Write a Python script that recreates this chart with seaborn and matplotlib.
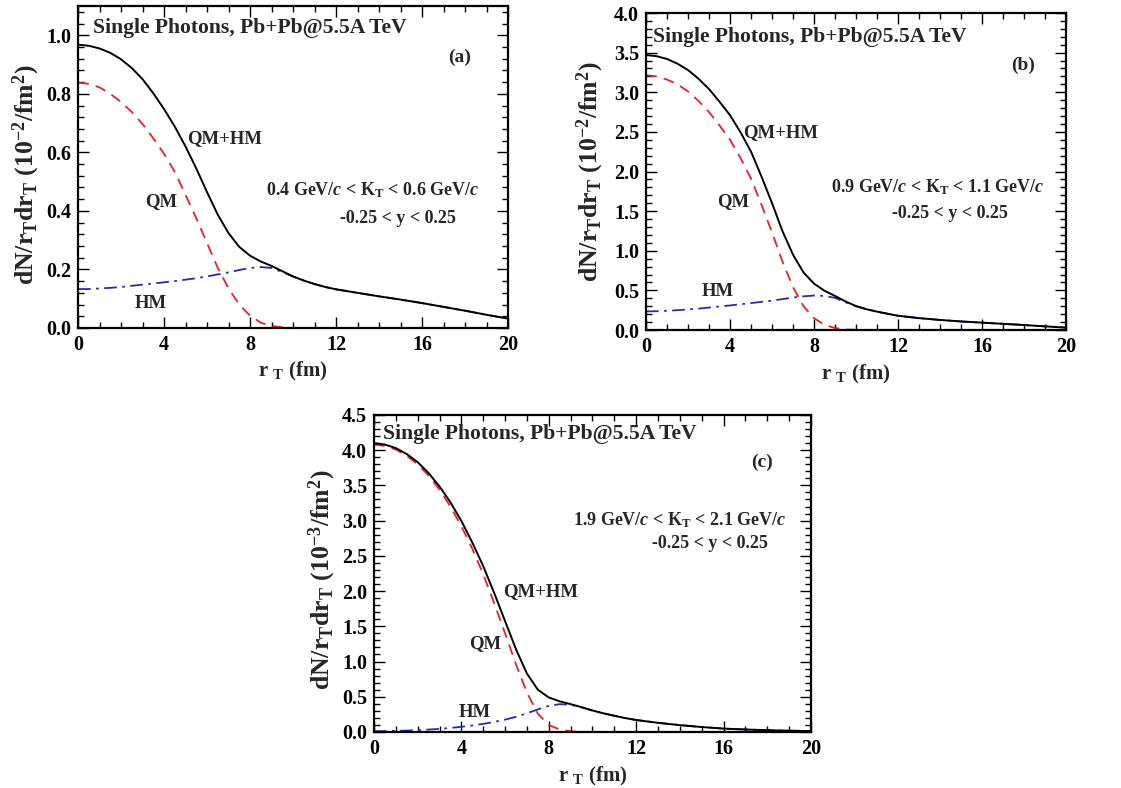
import numpy as np
import pandas as pd
import seaborn as sns
import matplotlib
matplotlib.use("Agg")
import matplotlib.pyplot as plt
from matplotlib.ticker import MultipleLocator, FormatStrFormatter

# transverse radius grid (fm)
r_T = [0, 0.5, 1, 1.5, 2, 2.5, 3, 3.5, 4, 4.5, 5, 5.5, 6, 6.5, 7, 7.5, 8, 8.5,
       9, 9.5, 10, 10.5, 11, 11.5, 12, 13, 14, 15, 16, 17, 18, 19, 20]

# (a) 0.4 < K_T < 0.6 GeV/c, units 10^-2 / fm^2
qm_a = [0.838, 0.834, 0.822, 0.800, 0.772, 0.738, 0.697, 0.648, 0.595, 0.533,
        0.455, 0.375, 0.290, 0.205, 0.135, 0.080, 0.042, 0.018, 0.007, 0.002,
        0, 0, 0, 0, 0, 0, 0, 0, 0, 0, 0, 0, 0]
hm_a = [0.133, 0.133, 0.135, 0.137, 0.140, 0.144, 0.148, 0.152, 0.156, 0.160,
        0.165, 0.170, 0.176, 0.183, 0.190, 0.198, 0.205, 0.208, 0.205, 0.191,
        0.176, 0.162, 0.150, 0.140, 0.132, 0.120, 0.108, 0.097, 0.085, 0.072,
        0.059, 0.045, 0.032]
tot_a = [0.968, 0.964, 0.955, 0.940, 0.918, 0.888, 0.850, 0.802, 0.748, 0.688,
         0.620, 0.545, 0.464, 0.387, 0.324, 0.277, 0.247, 0.227, 0.212, 0.194,
         0.176, 0.162, 0.150, 0.140, 0.132, 0.120, 0.108, 0.097, 0.085, 0.072,
         0.059, 0.045, 0.032]

# (b) 0.9 < K_T < 1.1 GeV/c, units 10^-2 / fm^2
qm_b = [3.215, 3.200, 3.160, 3.100, 3.010, 2.890, 2.750, 2.580, 2.400, 2.170,
        1.910, 1.580, 1.230, 0.860, 0.540, 0.300, 0.150, 0.065, 0.025, 0.008,
        0.002, 0, 0, 0, 0, 0, 0, 0, 0, 0, 0, 0, 0]
hm_b = [0.235, 0.237, 0.243, 0.250, 0.260, 0.270, 0.283, 0.297, 0.310, 0.325,
        0.340, 0.355, 0.370, 0.390, 0.410, 0.425, 0.435, 0.430, 0.405, 0.350,
        0.300, 0.262, 0.232, 0.205, 0.180, 0.150, 0.127, 0.108, 0.093, 0.078,
        0.063, 0.046, 0.030]
tot_b = [3.470, 3.455, 3.420, 3.360, 3.280, 3.170, 3.040, 2.880, 2.710, 2.495,
         2.250, 1.935, 1.600, 1.245, 0.950, 0.725, 0.585, 0.495, 0.430, 0.360,
         0.302, 0.262, 0.232, 0.205, 0.180, 0.150, 0.127, 0.108, 0.093, 0.078,
         0.063, 0.046, 0.030]

# (c) 1.9 < K_T < 2.1 GeV/c, units 10^-3 / fm^2
qm_c = [4.080, 4.060, 4.010, 3.920, 3.800, 3.640, 3.440, 3.200, 2.920, 2.600,
        2.240, 1.830, 1.400, 0.960, 0.560, 0.260, 0.100, 0.035, 0.010, 0.002,
        0, 0, 0, 0, 0, 0, 0, 0, 0, 0, 0, 0, 0]
hm_c = [0.012, 0.013, 0.016, 0.020, 0.026, 0.034, 0.044, 0.057, 0.073, 0.092,
        0.115, 0.143, 0.175, 0.215, 0.265, 0.320, 0.370, 0.395, 0.385, 0.350,
        0.305, 0.265, 0.230, 0.197, 0.170, 0.130, 0.097, 0.070, 0.048, 0.035,
        0.025, 0.018, 0.013]
tot_c = [4.100, 4.080, 4.030, 3.945, 3.830, 3.675, 3.485, 3.260, 2.995, 2.690,
         2.355, 1.975, 1.575, 1.175, 0.830, 0.600, 0.490, 0.435, 0.395, 0.352,
         0.305, 0.265, 0.230, 0.197, 0.170, 0.130, 0.097, 0.070, 0.048, 0.035,
         0.025, 0.018, 0.013]

panel_tags = ["(a)", "(b)", "(c)"]
kt_ranges = [r"0.4 GeV/$c$ < K$_{\mathrm{T}}$ < 0.6 GeV/$c$",
             r"0.9 GeV/$c$ < K$_{\mathrm{T}}$ < 1.1 GeV/$c$",
             r"1.9 GeV/$c$ < K$_{\mathrm{T}}$ < 2.1 GeV/$c$"]
y_units = [r"$\mathrm{dN/r_{T}dr_{T}\ (10^{-2}/fm^{2})}$",
           r"$\mathrm{dN/r_{T}dr_{T}\ (10^{-2}/fm^{2})}$",
           r"$\mathrm{dN/r_{T}dr_{T}\ (10^{-3}/fm^{2})}$"]
title = "Single Photons, Pb+Pb@5.5A TeV"
rap_text = "-0.25 < y < 0.25"

sns.set_theme(style="ticks")
serif = "Liberation Serif"
plt.rcParams.update({
    "font.family": [serif, "DejaVu Serif"],
    "font.weight": "bold",
    "mathtext.fontset": "custom",
    "mathtext.rm": f"{serif}:bold",
    "mathtext.it": f"{serif}:italic:bold",
    "mathtext.bf": f"{serif}:bold",
    "axes.linewidth": 1.6,
    "axes.edgecolor": "black",
})

fig = plt.figure(figsize=(11.21, 7.88), dpi=100)

panels = [
    dict(rect=[0.0696, 0.5838, 0.3836, 0.4086], ymax=1.1, ymaj=0.2,
         qm=qm_a, hm=hm_a, tot=tot_a, ylab_xy=(-0.083, 0.475),
         title_xy=(0.035, 0.932), tag_xy=(0.888, 0.842),
         kt_xy=(0.686, 0.429), rap_xy=(0.744, 0.341),
         lab_tot=(6.84, 0.648), lab_qm=(3.86, 0.432), lab_hm=(3.37, 0.085)),
    dict(rect=[0.5763, 0.5812, 0.3747, 0.4023], ymax=4.0, ymaj=0.5,
         qm=qm_b, hm=hm_b, tot=tot_b, ylab_xy=(-0.095, 0.5),
         title_xy=(0.017, 0.924), tag_xy=(0.898, 0.836),
         kt_xy=(0.695, 0.451), rap_xy=(0.724, 0.369),
         lab_tot=(6.43, 2.49), lab_qm=(4.14, 1.62), lab_hm=(3.43, 0.49)),
    dict(rect=[0.3336, 0.0711, 0.3898, 0.4023], ymax=4.5, ymaj=0.5,
         qm=qm_c, hm=hm_c, tot=tot_c, ylab_xy=(-0.082, 0.48),
         title_xy=(0.020, 0.940), tag_xy=(0.888, 0.852),
         kt_xy=(0.700, 0.669), rap_xy=(0.769, 0.596),
         lab_tot=(7.64, 1.99), lab_qm=(5.08, 1.26), lab_hm=(4.62, 0.27)),
]

for i, p in enumerate(panels):
    ax = fig.add_axes(p["rect"])
    df = pd.DataFrame({"r": r_T, "QM": p["qm"], "HM": p["hm"], "QM+HM": p["tot"]})

    sns.lineplot(data=df, x="r", y="QM", ax=ax, color="#e8202a", lw=1.3,
                 linestyle=(0, (6, 4)), estimator=None)
    sns.lineplot(data=df, x="r", y="HM", ax=ax, color="#23309a", lw=1.3,
                 linestyle=(0, (7, 3, 1.5, 3)), estimator=None)
    sns.lineplot(data=df, x="r", y="QM+HM", ax=ax, color="black", lw=1.4,
                 estimator=None)

    ax.set_xlim(0, 20)
    ax.set_ylim(0, p["ymax"])
    ax.xaxis.set_major_locator(MultipleLocator(4))
    ax.xaxis.set_minor_locator(MultipleLocator(1))
    ax.yaxis.set_major_locator(MultipleLocator(p["ymaj"]))
    ax.yaxis.set_minor_locator(MultipleLocator(p["ymaj"] / 5))
    ax.tick_params(which="both", direction="in", top=True, right=True,
                   width=1.0, colors="black", labelsize=14.5)
    ax.tick_params(which="major", length=8, pad=5)
    ax.tick_params(which="minor", length=4.5)
    ax.yaxis.set_major_formatter(FormatStrFormatter("%.1f"))
    for lab in ax.get_xticklabels() + ax.get_yticklabels():
        lab.set_fontweight("bold")

    ax.set_xlabel(r"r $_{\mathrm{T}}$ (fm)", fontsize=15, fontweight="bold",
                  labelpad=4)
    ax.set_ylabel(y_units[i], fontsize=18.5)
    ax.yaxis.set_label_coords(*p["ylab_xy"])

    ax.text(*p["title_xy"], title, transform=ax.transAxes, fontsize=15.6,
            fontweight="bold", ha="left", va="center")
    ax.text(*p["tag_xy"], panel_tags[i], transform=ax.transAxes, fontsize=14,
            fontweight="bold", ha="center", va="center")
    ax.text(*p["kt_xy"], kt_ranges[i], transform=ax.transAxes, fontsize=13,
            fontweight="bold", ha="center", va="center")
    ax.text(*p["rap_xy"], rap_text, transform=ax.transAxes, fontsize=13,
            fontweight="bold", ha="center", va="center")
    ax.text(*p["lab_tot"], "QM+HM", fontsize=13.5, fontweight="bold",
            ha="center", va="center")
    ax.text(*p["lab_qm"], "QM", fontsize=13.5, fontweight="bold",
            ha="center", va="center")
    ax.text(*p["lab_hm"], "HM", fontsize=13.5, fontweight="bold",
            ha="center", va="center")

fig.savefig("out.png", dpi=100)
